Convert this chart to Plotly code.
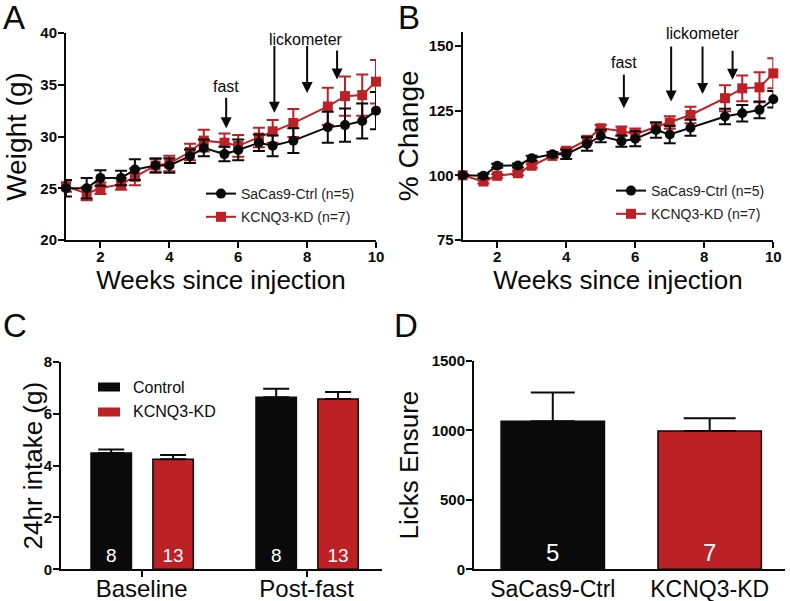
import plotly.graph_objects as go

# ---------------- data ----------------
weeks = [1, 1.6, 2, 2.6, 3, 3.6, 4, 4.6, 5, 5.6, 6, 6.6, 7, 7.6, 8.6, 9.1, 9.6, 10]

ctrl_weight = [25.0, 25.0, 26.0, 26.0, 26.8, 27.2, 27.2, 28.1, 28.9, 28.3, 28.7, 29.4, 29.1, 29.6, 30.9, 31.1, 31.5, 32.5]
ctrl_weight_sem = [0.8, 1.0, 0.75, 0.7, 1.0, 0.65, 0.7, 0.65, 0.8, 0.7, 1.0, 0.8, 1.0, 1.2, 1.5, 1.6, 1.7, 1.8]
kd_weight = [25.2, 24.5, 25.0, 25.4, 26.1, 27.2, 27.4, 28.5, 29.6, 29.4, 29.1, 29.9, 30.5, 31.3, 32.9, 33.9, 34.0, 35.3]
kd_weight_sem = [0.55, 0.65, 0.55, 0.55, 0.8, 0.7, 0.75, 0.8, 1.05, 0.9, 1.05, 0.95, 1.1, 1.35, 1.8, 1.9, 2.0, 2.1]

ctrl_pct = [100, 99.8, 103.7, 103.8, 106.6, 108.1, 108.1, 112.1, 115.2, 113.2, 114.1, 117.5, 115.8, 118.4, 122.7, 124.0, 125.3, 129.4]
ctrl_pct_sem = [0.3, 0.8, 0.8, 0.8, 1.0, 0.9, 1.8, 2.6, 2.4, 2.2, 2.9, 3.0, 3.4, 3.1, 3.0, 3.2, 3.2, 3.2]
kd_pct = [100, 97.6, 99.8, 100.8, 103.7, 107.5, 109.5, 113.7, 118.2, 117.1, 115.9, 118.6, 120.4, 123.3, 129.8, 133.6, 134.0, 139.4]
kd_pct_sem = [0.3, 0.8, 0.7, 0.8, 0.8, 0.8, 1.0, 1.3, 1.2, 1.8, 2.2, 1.6, 2.4, 3.2, 5.0, 5.0, 5.8, 5.8]

weight_ticks = [20, 25, 30, 35, 40]
pct_ticks = [75, 100, 125, 150]
week_ticks = [2, 4, 6, 8, 10]

fast_week = 5.65
lick_weeks = [7.05, 8.0, 8.87]

intake_groups = ["Baseline", "Post-fast"]
intake_ctrl = [4.48, 6.63]
intake_ctrl_err = [0.14, 0.33]
intake_kd = [4.24, 6.56]
intake_kd_err = [0.16, 0.27]
intake_n_ctrl = [8, 8]
intake_n_kd = [13, 13]
intake_ticks = [0, 2, 4, 6, 8]

lick_groups = ["SaCas9-Ctrl", "KCNQ3-KD"]
licks = [1066, 996]
licks_err = [208, 91]
licks_n = [5, 7]
licks_ticks = [0, 500, 1000, 1500]

series_names = ["SaCas9-Ctrl (n=5)", "KCNQ3-KD (n=7)"]
bar_names = ["Control", "KCNQ3-KD"]

# ---------------- style ----------------
BLACK = "#0a0a0a"
RED = "#bd2025"
FONT = "Liberation Sans, Arial, sans-serif"
W, H = 790, 601


def xd(a, b):
    return [a / W, b / W]


def yd(top, bottom):
    return [1 - bottom / H, 1 - top / H]


fig = go.Figure()

# ---- Panel A ----
for vals, sem, name, col, sym, rank in [
    (kd_weight, kd_weight_sem, series_names[1], RED, "square", 2),
    (ctrl_weight, ctrl_weight_sem, series_names[0], BLACK, "circle", 1),
]:
    fig.add_trace(go.Scatter(
        x=weeks, y=vals, name=name, mode="lines+markers",
        line=dict(color=col, width=2),
        marker=dict(color=col, symbol=sym, size=10),
        error_y=dict(type="data", array=sem, color=col, thickness=2, width=6),
        xaxis="x", yaxis="y", legend="legend", legendrank=rank, legendgroup="a" + name,
        cliponaxis=False,
    ))

# ---- Panel B ----
for vals, sem, name, col, sym, rank in [
    (kd_pct, kd_pct_sem, series_names[1], RED, "square", 2),
    (ctrl_pct, ctrl_pct_sem, series_names[0], BLACK, "circle", 1),
]:
    fig.add_trace(go.Scatter(
        x=weeks, y=vals, name=name, mode="lines+markers",
        line=dict(color=col, width=2),
        marker=dict(color=col, symbol=sym, size=10),
        error_y=dict(type="data", array=sem, color=col, thickness=2, width=6),
        xaxis="x2", yaxis="y2", legend="legend2", legendrank=rank, legendgroup="b" + name,
        cliponaxis=False,
    ))

# ---- Panel C ----
for vals, err, ns, col, name, off in [
    (intake_ctrl, intake_ctrl_err, intake_n_ctrl, BLACK, bar_names[0], -0.307),
    (intake_kd, intake_kd_err, intake_n_kd, RED, bar_names[1], 0.068),
]:
    fig.add_trace(go.Bar(
        x=intake_groups, y=vals, name=name, width=0.245, offset=off,
        marker=dict(color=col, line=dict(color=BLACK, width=1.5)),
        error_y=dict(type="data", array=err, arrayminus=[0] * len(err), symmetric=False,
                     color=BLACK, thickness=2, width=13),
        text=[str(n) for n in ns], textposition="inside", insidetextanchor="start",
        textangle=0, constraintext="none",
        textfont=dict(color="white", size=19, family=FONT),
        xaxis="x3", yaxis="y3", showlegend=False,
    ))

# ---- Panel D ----
for i, (col, cap) in enumerate([(BLACK, 22), (RED, 26)]):
    fig.add_trace(go.Bar(
        x=[lick_groups[i]], y=[licks[i]], width=0.659,
        marker=dict(color=col, line=dict(color=BLACK, width=1.5)),
        error_y=dict(type="data", array=[licks_err[i]], arrayminus=[0], symmetric=False,
                     color=BLACK, thickness=2, width=cap),
        text=[str(licks_n[i])], textposition="inside", insidetextanchor="start",
        textangle=0, constraintext="none",
        textfont=dict(color="white", size=24, family=FONT),
        xaxis="x4", yaxis="y4", showlegend=False,
    ))

tickfont = dict(family=FONT, size=15, color=BLACK, weight="bold")
axline = dict(showline=True, linecolor=BLACK, showgrid=False, zeroline=False,
              ticks="outside", ticklen=6, tickcolor=BLACK, automargin=False,
              linewidth=2, tickwidth=2)

fig.update_layout(
    template="none",
    width=W, height=H, margin=dict(l=0, r=0, t=0, b=0, pad=0, autoexpand=False),
    paper_bgcolor="white", plot_bgcolor="white",
    font=dict(family=FONT, color=BLACK),
    barmode="group",
    xaxis=dict(domain=xd(66, 376), range=[1, 10], tickvals=week_ticks, tickfont=tickfont,
               anchor="y", ticklabelstandoff=-4,
               title=dict(text="Weeks since injection", font=dict(size=26), standoff=0), **axline),
    yaxis=dict(domain=yd(33, 240), range=[20, 40], tickvals=weight_ticks, tickfont=tickfont,
               anchor="x", ticklabelstandoff=-2,
               title=dict(text="Weight (g)", font=dict(size=28), standoff=6), **axline),
    xaxis2=dict(domain=xd(462.7, 773.3), range=[1, 10], tickvals=week_ticks, tickfont=tickfont,
                anchor="y2", ticklabelstandoff=-4,
                title=dict(text="Weeks since injection", font=dict(size=26), standoff=0), **axline),
    yaxis2=dict(domain=yd(31.7, 240), range=[75, 155.5], tickvals=pct_ticks, tickfont=tickfont,
                anchor="x2", ticklabelstandoff=-2,
                title=dict(text="% Change", font=dict(size=28), standoff=2), **axline),
    xaxis3=dict(domain=xd(61, 381.7), range=[-0.489, 1.455], type="category",
                tickfont=dict(family=FONT, size=24, color=BLACK), ticklabelstandoff=-9,
                anchor="y3", **axline),
    yaxis3=dict(domain=yd(361.7, 569.3), range=[0, 8], tickvals=intake_ticks, tickfont=tickfont,
                anchor="x3", ticklabelstandoff=-2, **axline),
    xaxis4=dict(domain=xd(474, 785), range=[-0.502, 1.48], type="category",
                tickfont=dict(family=FONT, size=23, color=BLACK), ticklabelstandoff=-2,
                showline=True, linecolor=BLACK, linewidth=2, showgrid=False, zeroline=False,
                ticks="", anchor="y4", automargin=False),
    yaxis4=dict(domain=yd(361, 569.3), range=[0, 1500], tickvals=licks_ticks, tickfont=tickfont,
                anchor="x4", ticklabelstandoff=-2,
                title=dict(text="Licks Ensure", font=dict(size=26), standoff=6), **axline),
    legend=dict(x=201 / W, y=1 - 178 / H, xanchor="left", yanchor="top",
                bgcolor="rgba(0,0,0,0)", font=dict(size=14, family=FONT, color="#222"),
                traceorder="grouped", tracegroupgap=2),
    legend2=dict(x=611 / W, y=1 - 175 / H, xanchor="left", yanchor="top",
                 bgcolor="rgba(0,0,0,0)", font=dict(size=14, family=FONT, color="#222"),
                 traceorder="grouped", tracegroupgap=2),
)

# Arrows and labels
ann = []


def arrow(xr, yr, x, tail, tip):
    ann.append(dict(x=x, y=tip, ax=x, ay=tail, xref=xr, yref=yr, axref=xr, ayref=yr,
                    text="", showarrow=True, arrowhead=2, arrowsize=1.1, arrowwidth=2,
                    arrowcolor=BLACK, standoff=0))


def label(xr, yr, x, y, txt, size=16):
    ann.append(dict(x=x, y=y, xref=xr, yref=yr, text=txt, showarrow=False,
                    font=dict(size=size, family=FONT, color=BLACK)))


# panel A
arrow("x", "y", fast_week, 33.9, 30.8)
label("x", "y", fast_week, 34.8, "fast")
for xw, tail, tip in zip(lick_weeks, [38.9, 38.9, 38.45], [32.3, 34.2, 35.5]):
    arrow("x", "y", xw, tail, tip)
label("x", "y", 7.98, 39.35, "lickometer")

# panel B
arrow("x2", "y2", 5.67, 139.4, 125.9)
label("x2", "y2", 5.67, 143.7, "fast")
for xw, tail, tip in zip([7.04, 7.95, 8.82], [150.4, 150.4, 148.7], [128.5, 131.4, 136.9]):
    arrow("x2", "y2", xw, tail, tip)
label("x2", "y2", 7.95, 154.9, "lickometer")

# panel C y-axis title
ann.append(dict(x=32 / W, y=1 - 465.5 / H, xref="paper", yref="paper", text="24hr intake (g)",
                textangle=-90, showarrow=False, xanchor="center", yanchor="middle",
                font=dict(size=26, family=FONT, color=BLACK)))

# panel letters
for txt, px, py in [("A", 14, 18), ("B", 409, 18), ("C", 15, 325), ("D", 406, 325)]:
    ann.append(dict(x=px / W, y=1 - py / H, xref="paper", yref="paper", text=txt,
                    showarrow=False, font=dict(size=33, family=FONT, color=BLACK),
                    xanchor="center", yanchor="middle"))

# panel C legend (drawn)
shapes = []
for (name, col, cy) in [(bar_names[0], BLACK, 387), (bar_names[1], RED, 412)]:
    shapes.append(dict(type="rect", xref="paper", yref="paper",
                       x0=98 / W, x1=120 / W, y0=1 - (cy + 4.5) / H, y1=1 - (cy - 4.5) / H,
                       fillcolor=col, line=dict(width=0)))
    ann.append(dict(x=131 / W, y=1 - cy / H, xref="paper", yref="paper", text=name,
                    showarrow=False, xanchor="left", yanchor="middle",
                    font=dict(size=16, family=FONT, color=BLACK)))

fig.update_layout(annotations=ann, shapes=shapes)
fig.write_html("out.html", config={"displayModeBar": False},
               post_script="document.body.style.margin='0';")
